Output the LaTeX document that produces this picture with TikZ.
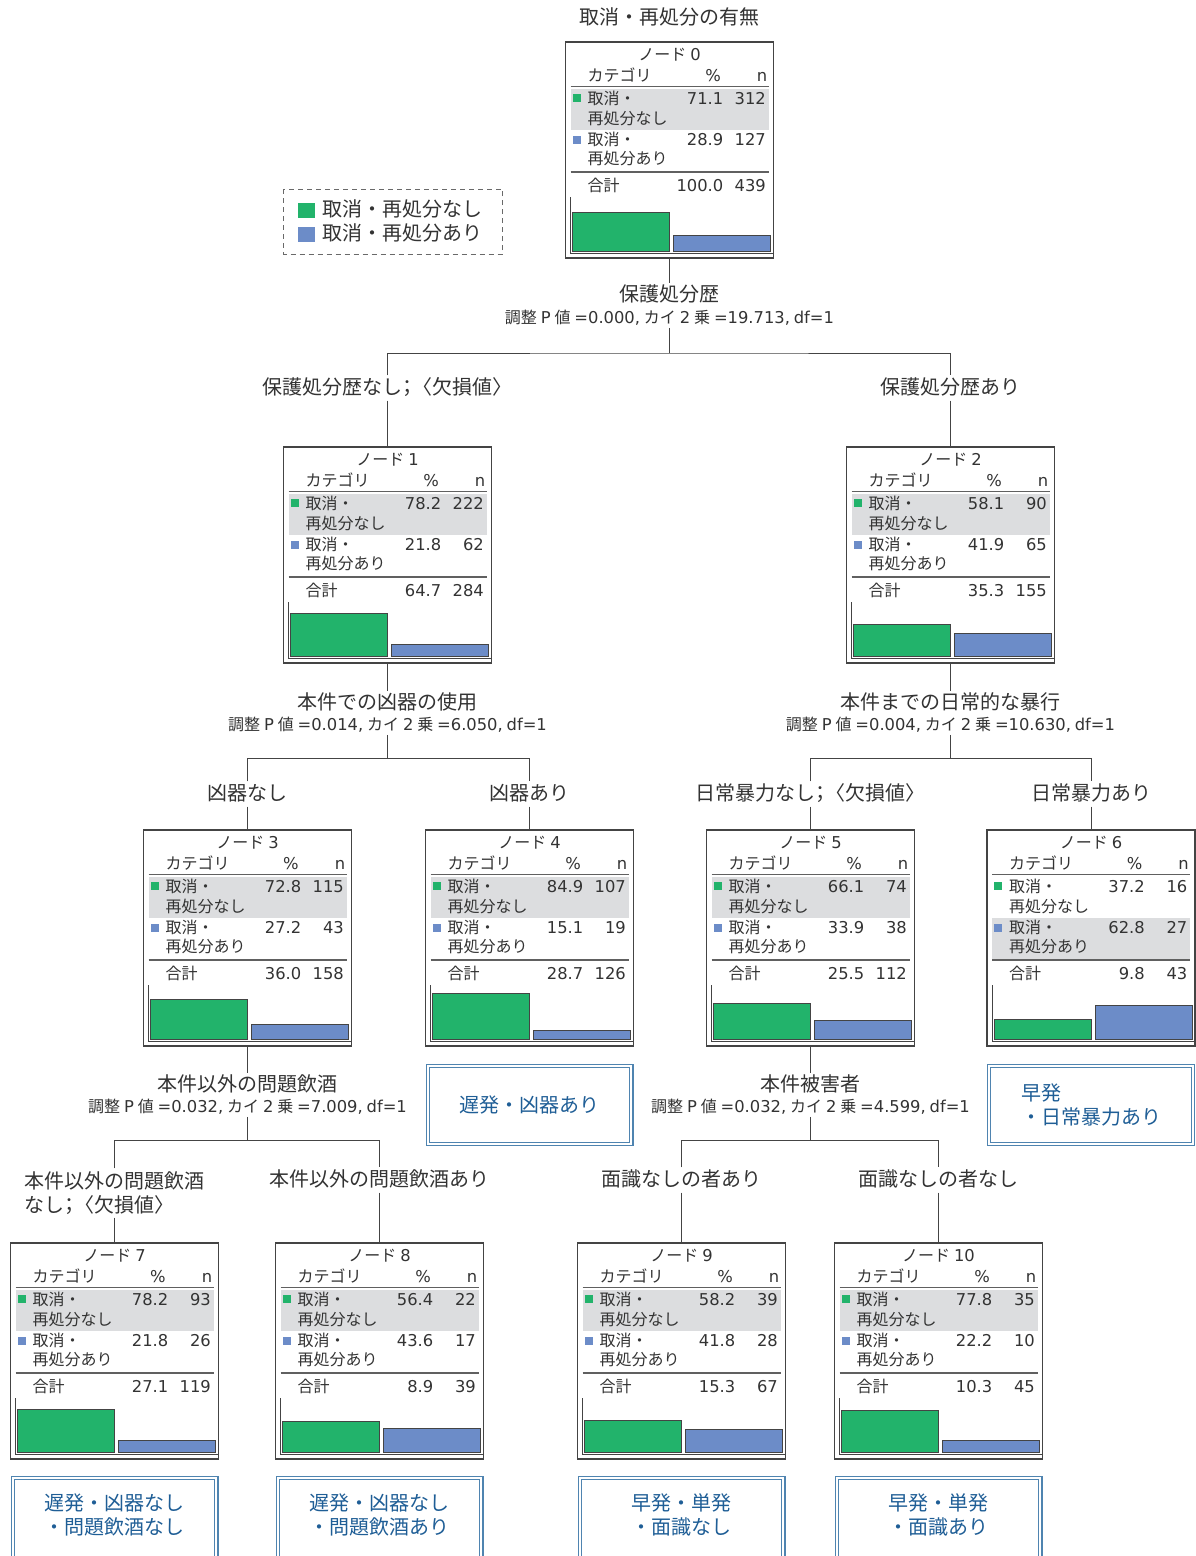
\documentclass[tikz,border=0pt]{standalone}
\usepackage{fontspec}
\setmainfont{Noto Sans CJK JP}
\newfontfamily\lat[Scale=1.02,WordSpace=0.75]{DejaVu Sans}
\newcommand\myfs[2]{\fontsize{#1}{#2}\selectfont}
\newcommand\lt[1]{{\lat #1}}
\newcommand\semi{{\addfontfeature{RawFeature=+palt}；}}
\definecolor{barG}{HTML}{22B36B}
\definecolor{barB}{HTML}{6C8CC8}
\definecolor{bandC}{HTML}{DCDDDF}
\definecolor{txt}{HTML}{333333}
\definecolor{leafT}{HTML}{1F5E96}
\definecolor{leafL}{HTML}{4F84B0}
\definecolor{frameC}{HTML}{444444}
\tikzset{
 boxframe/.style={draw=frameC, line width=1.2pt, minimum width=208pt, minimum height=216pt, inner sep=0pt},
 tb/.style={font=\myfs{16}{19}, text=txt, inner sep=0pt, text height=13.5pt, text depth=2pt},
 tbn/.style={font=\myfs{16}{19}\lat, text=txt, inner sep=0pt, text height=13.5pt, text depth=2pt},
 rulel/.style={draw=frameC!85, line width=1.2pt},
 axisl/.style={draw=frameC, line width=0.9pt},
 barbox/.style={draw=frameC, line width=0.8pt},
 conn/.style={draw=frameC, line width=1pt},
 splitT/.style={font=\myfs{20}{24}, text=txt, inner sep=2pt, text height=16pt, text depth=3pt},
 statT/.style={font=\myfs{16}{19}, text=txt, inner sep=2pt, text height=13.5pt, text depth=2pt},
 branchT/.style={font=\myfs{20}{24}, text=txt, inner sep=3pt, text height=16pt, text depth=3pt},
 branchM/.style={font=\myfs{20}{24}, text=txt, inner sep=3pt, align=left},
 leafbox/.style={draw=leafL, double=white, double distance=2pt, line width=1.2pt,
   minimum width=203.6pt, minimum height=77.6pt, font=\myfs{20}{24.5}, text=leafT, align=center, inner sep=0pt},
 leafframe/.style={draw=leafL, double=white, double distance=2pt, line width=1.2pt,
   minimum width=203.6pt, minimum height=100pt, inner sep=0pt},
 leaftext/.style={font=\myfs{20}{24.5}, text=leafT, align=center, inner sep=0pt},
 legtxt/.style={font=\myfs{20}{24}, text=txt, inner sep=0pt, anchor=west, text height=16pt, text depth=3pt},
}
\newcommand\treebox[9]{%
\begin{scope}[shift={(#2,#3)}]
\pgfmathtruncatemacro\hlrow{(#4>#6)?1:2}%
\pgfmathsetmacro\hA{0.54*#4}%
\pgfmathsetmacro\hB{0.54*#6}%
\ifnum\hlrow=1\relax
  \fill[bandC] (5,47) rectangle (203,88);
\else
  \fill[bandC] (5,88) rectangle (203,129);
\fi
\node[boxframe] (n#1) at (104,108) {};
\node[tb] (n#1ttl) at (104,12.5) {ノード\lt{ #1}};
\node[tb,anchor=west] (n#1hc) at (22,34) {カテゴリ};
\node[tbn] (n#1hp) at (147.5,34) {\%};
\node[tbn,anchor=east] (n#1hn) at (202,34) {n};
\draw[rulel] (5,44.5) -- (203,44.5);
\fill[barG] (7,52) rectangle (15,60);
\node[tb,anchor=west] (n#1ra) at (22,57) {取消・};
\node[tb,anchor=west] (n#1rb) at (22,77) {再処分なし};
\node[tbn,anchor=east] (n#1pa) at (158,57) {#4};
\node[tbn,anchor=east] (n#1ca) at (200.5,57) {#5};
\fill[barB] (7,94) rectangle (15,102);
\node[tb,anchor=west] (n#1rc) at (22,98) {取消・};
\node[tb,anchor=west] (n#1rd) at (22,117) {再処分あり};
\node[tbn,anchor=east] (n#1pb) at (158,98) {#6};
\node[tbn,anchor=east] (n#1cb) at (200.5,98) {#7};
\draw[rulel] (5,130) -- (203,130);
\node[tb,anchor=west] (n#1tl) at (22,143.5) {合計};
\node[tbn,anchor=east] (n#1pt) at (158,143.5) {#8};
\node[tbn,anchor=east] (n#1ct) at (200.5,143.5) {#9};
\draw[axisl] (5,155) -- (5,211) -- (207,211);
\filldraw[fill=barG, barbox] (7,209) rectangle (104,{209-\hA});
\filldraw[fill=barB, barbox] (108,209) rectangle (205,{209-\hB});
\end{scope}}
\newcommand\statline[2]{調整\lt{ P }値\lt{ =#1, }カイ\lt{ 2 }乗\lt{ =#2, df=1}}
\begin{document}
\begin{tikzpicture}[x=1pt,y=-1pt]
\useasboundingbox (0,0) rectangle (1196,1556);
\fill[white] (0,0) rectangle (1196,1556);

% title
\node[splitT] (ttl) at (669.5,18) {取消・再処分の有無};

% legend
\draw[draw=frameC!80, line width=1pt, dash pattern=on 5pt off 4pt] (283.5,189) rectangle (502.5,254);
\fill[barG] (298,203) rectangle (315,218);
\fill[barB] (298,227) rectangle (315,242);
\node[legtxt] (lg1) at (322,210) {取消・再処分なし};
\node[legtxt] (lg2) at (322,234) {取消・再処分あり};

% nodes
\treebox{0}{565.5}{42}{71.1}{312}{28.9}{127}{100.0}{439}
\treebox{1}{283.5}{447}{78.2}{222}{21.8}{62}{64.7}{284}
\treebox{2}{846.5}{447}{58.1}{90}{41.9}{65}{35.3}{155}
\treebox{3}{143.5}{830}{72.8}{115}{27.2}{43}{36.0}{158}
\treebox{4}{425.5}{830}{84.9}{107}{15.1}{19}{28.7}{126}
\treebox{5}{706.5}{830}{66.1}{74}{33.9}{38}{25.5}{112}
\treebox{6}{987}{830}{37.2}{16}{62.8}{27}{9.8}{43}
\treebox{7}{10.5}{1243}{78.2}{93}{21.8}{26}{27.1}{119}
\treebox{8}{275.5}{1243}{56.4}{22}{43.6}{17}{8.9}{39}
\treebox{9}{577.5}{1243}{58.2}{39}{41.8}{28}{15.3}{67}
\treebox{10}{834.5}{1243}{77.8}{35}{22.2}{10}{10.3}{45}

% split 0
\node[splitT] (s0t) at (669.5,295) {保護処分歴};
\node[statT] (s0s) at (669.5,318) {\statline{0.000}{19.713}};
\coordinate (j0) at (669.5,353);
\node[branchT] (b1) at (387.5,388) {保護処分歴なし\semi〈欠損値〉};
\node[branchT] (b2) at (950.5,388) {保護処分歴あり};
\draw[conn] (n0.south) -- (s0t.north);
\draw[conn] (s0s.south) -- (j0);
\draw[conn] (b1.north) |- (j0) -| (b2.north);
\draw[conn] (b1.south) -- (n1.north);
\draw[conn] (b2.south) -- (n2.north);

% split 1
\node[splitT] (s1t) at (387.5,703) {本件での凶器の使用};
\node[statT] (s1s) at (387.5,725) {\statline{0.014}{6.050}};
\coordinate (j1) at (387.5,758);
\node[branchT] (b3) at (247.5,794) {凶器なし};
\node[branchT] (b4) at (529.5,794) {凶器あり};
\draw[conn] (n1.south) -- (s1t.north);
\draw[conn] (s1s.south) -- (j1);
\draw[conn] (b3.north) |- (j1) -| (b4.north);
\draw[conn] (b3.south) -- (n3.north);
\draw[conn] (b4.south) -- (n4.north);

% split 2
\node[splitT] (s2t) at (950.5,703) {本件までの日常的な暴行};
\node[statT] (s2s) at (950.5,725) {\statline{0.004}{10.630}};
\coordinate (j2) at (950.5,758);
\node[branchT] (b5) at (810.5,794) {日常暴力なし\semi〈欠損値〉};
\node[branchT] (b6) at (1091,794) {日常暴力あり};
\draw[conn] (n2.south) -- (s2t.north);
\draw[conn] (s2s.south) -- (j2);
\draw[conn] (b5.north) |- (j2) -| (b6.north);
\draw[conn] (b5.south) -- (n5.north);
\draw[conn] (b6.south) -- (n6.north);

% split 3
\node[splitT] (s3t) at (247.5,1085) {本件以外の問題飲酒};
\node[statT] (s3s) at (247.5,1107) {\statline{0.032}{7.009}};
\coordinate (j3) at (247.5,1140);
\node[branchM] (b7) at (114.5,1193) {本件以外の問題飲酒\\なし\semi〈欠損値〉};
\node[branchT] (b8) at (379.5,1180) {本件以外の問題飲酒あり};
\draw[conn] (n3.south) -- (s3t.north);
\draw[conn] (s3s.south) -- (j3);
\draw[conn] (b7.north) |- (j3) -| (b8.north);
\draw[conn] (b7.south) -- (n7.north);
\draw[conn] (b8.south) -- (n8.north);

% split 5
\node[splitT] (s5t) at (810.5,1085) {本件被害者};
\node[statT] (s5s) at (810.5,1107) {\statline{0.032}{4.599}};
\coordinate (j5) at (810.5,1140);
\node[branchT] (b9) at (681.5,1180) {面識なしの者あり};
\node[branchT] (b10) at (938.5,1180) {面識なしの者なし};
\draw[conn] (n5.south) -- (s5t.north);
\draw[conn] (s5s.south) -- (j5);
\draw[conn] (b9.north) |- (j5) -| (b10.north);
\draw[conn] (b9.south) -- (n9.north);
\draw[conn] (b10.south) -- (n10.north);

% leaf labels
\node[leafbox] (l4) at (529.5,1105) {遅発・凶器あり};
\node[leafbox, align=left] (l6) at (1091,1105) {早発\\・日常暴力あり};
\node[leafframe] (l7) at (114.5,1528) {};
\node[leafframe] (l8) at (379.5,1528) {};
\node[leafframe] (l9) at (681.5,1528) {};
\node[leafframe] (l10) at (938.5,1528) {};
\node[leaftext] (l7t) at (114.5,1515) {遅発・凶器なし\\・問題飲酒なし};
\node[leaftext] (l8t) at (379.5,1515) {遅発・凶器なし\\・問題飲酒あり};
\node[leaftext] (l9t) at (681.5,1515) {早発・単発\\・面識なし};
\node[leaftext] (l10t) at (938.5,1515) {早発・単発\\・面識あり};
\end{tikzpicture}
\end{document}
